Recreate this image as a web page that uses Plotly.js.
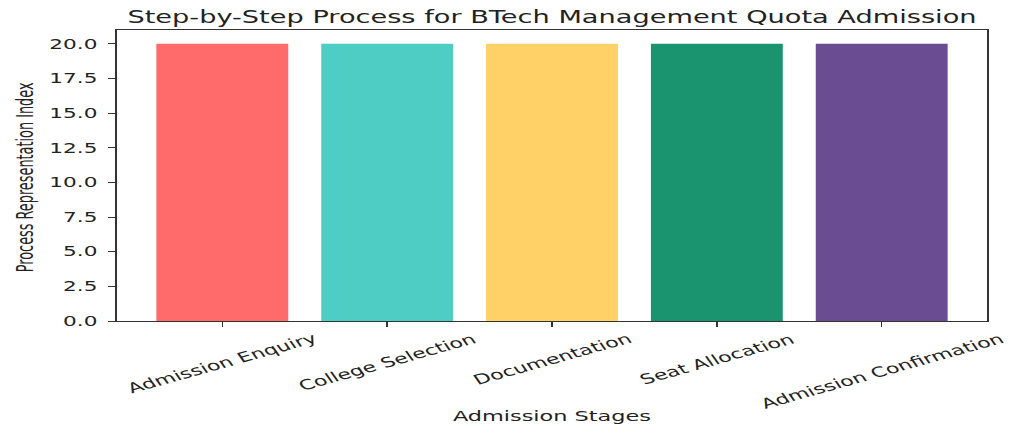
<!DOCTYPE html>
<html>
<head>
<meta charset="utf-8">
<script src="https://cdn.plot.ly/plotly-3.0.1.min.js"></script>
<style>
  html, body { margin: 0; padding: 0; background: #fff; overflow: hidden; }
  #wrap { width: 1024px; height: 433px; overflow: hidden; }
  #chart { width: 640px; height: 433px; transform: scaleX(1.6); transform-origin: 0 0; }
</style>
</head>
<body>
<div id="wrap"><div id="chart"></div></div>
<script>
const stages = ["Admission Enquiry", "College Selection", "Documentation", "Seat Allocation", "Admission Confirmation"];
const indexValues = [20, 20, 20, 20, 20];
const barColors = ["#FF6B6B", "#4ECDC4", "#FFD166", "#1A936F", "#6A4C93"];
const yTicks = [0, 2.5, 5, 7.5, 10, 12.5, 15, 17.5, 20];

const FONT = "DejaVu Sans, Verdana, sans-serif";
const TXT = "#222";

const trace = {
  type: "bar",
  x: stages,
  y: indexValues,
  width: 0.8,
  marker: { color: barColors, line: { width: 0 } },
  hoverinfo: "x+y"
};

const annotations = stages.map(s => ({
  x: s, xref: "x",
  y: -0.022, yref: "paper",
  text: s, showarrow: false,
  textangle: -24,
  xanchor: "center", yanchor: "top",
  font: { family: FONT, size: 13.8, color: TXT }
}));

annotations.push({
  x: 0.5, xref: "paper", y: -0.326, yref: "paper",
  text: "Admission Stages", showarrow: false,
  xanchor: "center", yanchor: "middle",
  font: { family: FONT, size: 14, color: TXT }
});

annotations.push({
  x: -0.106, xref: "paper", y: 0.495, yref: "paper",
  text: "Process Representation Index", showarrow: false,
  textangle: -90,
  xanchor: "center", yanchor: "middle",
  font: { family: "Liberation Sans Narrow, Arial Narrow, DejaVu Sans Condensed, sans-serif", size: 14.3, color: TXT }
});

const layout = {
  width: 640, height: 433,
  margin: { l: 72.5, r: 23.1, t: 30, b: 112 },
  paper_bgcolor: "#fff", plot_bgcolor: "#fff",
  showlegend: false,
  bargap: 0.2,
  title: {
    text: "Step-by-Step Process for BTech Management Quota Admission",
    font: { family: FONT, size: 17, color: TXT },
    x: 0.5, xref: "paper", xanchor: "center",
    y: 0.9596, yref: "container", yanchor: "middle"
  },
  xaxis: {
    type: "category",
    range: [-0.64, 4.64],
    showgrid: false, zeroline: false,
    showline: true, mirror: true, linecolor: "#333", linewidth: 1,
    ticks: "outside", ticklen: 5, tickwidth: 1, tickcolor: "#333",
    showticklabels: false
  },
  yaxis: {
    range: [0, 21],
    tickvals: yTicks,
    tickformat: ".1f",
    showgrid: false, zeroline: false,
    showline: true, mirror: true, linecolor: "#333", linewidth: 1,
    ticks: "outside", ticklen: 4.4, tickwidth: 1, tickcolor: "#333",
    ticklabelstandoff: 4,
    tickfont: { family: FONT, size: 13.5, color: TXT }
  },
  annotations: annotations
};

Plotly.newPlot("chart", [trace], layout, { displayModeBar: false, staticPlot: true });
</script>
</body>
</html>
